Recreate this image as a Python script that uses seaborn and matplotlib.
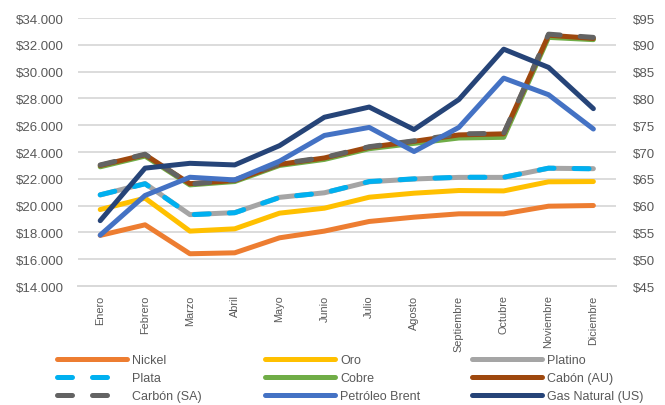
import numpy as np
import pandas as pd
import matplotlib
matplotlib.use("Agg")
from matplotlib import pyplot as plt
import seaborn as sns

#%% # Data

meses = ['Enero', 'Febrero', 'Marzo', 'Abril', 'Mayo', 'Junio', 'Julio',
         'Agosto', 'Septiembre', 'Octubre', 'Noviembre', 'Diciembre']

# left axis ($)
nickel = [17780, 18570, 16410, 16480, 17600, 18100, 18820, 19140, 19390, 19390, 19960, 20010]
oro = [19710, 20560, 18100, 18270, 19440, 19810, 20630, 20930, 21130, 21100, 21780, 21800]
platino = [20800, 21650, 19330, 19480, 20620, 20960, 21780, 21990, 22110, 22110, 22790, 22760]
plata = [20810, 21630, 19320, 19470, 20610, 20960, 21800, 22000, 22120, 22120, 22800, 22750]
cobre = [22900, 23700, 21550, 21800, 23000, 23450, 24250, 24650, 25050, 25100, 32560, 32390]

# right axis ($)
cabon_au = [67.5, 69.5, 64.1, 64.7, 67.7, 68.9, 70.9, 72.0, 73.2, 73.4, 91.8, 91.2]
carbon_sa = [67.6, 69.6, 64.0, 64.8, 67.8, 69.0, 71.0, 72.1, 73.4, 73.5, 92.0, 91.4]
brent = [54.5, 61.9, 65.3, 64.8, 68.3, 73.1, 74.6, 70.1, 74.6, 83.8, 80.7, 74.3]
gas = [57.2, 67.0, 67.9, 67.6, 71.2, 76.5, 78.4, 74.2, 79.8, 89.2, 85.8, 78.1]

left_series = [('Nickel', nickel, '#ED7D31', False),
               ('Oro', oro, '#FFC000', False),
               ('Platino', platino, '#A5A5A5', False),
               ('Plata', plata, '#00B0F0', True),
               ('Cobre', cobre, '#70AD47', False)]
right_series = [('Cabón (AU)', cabon_au, '#9E480E', False),
                ('Carbón (SA)', carbon_sa, '#636363', True),
                ('Petróleo Brent', brent, '#4472C4', False),
                ('Gas Natural (US)', gas, '#264478', False)]

#%% # Plot

sns.set_style('white')
plt.rcParams['font.family'] = ['Liberation Sans', 'DejaVu Sans']

fig = plt.figure(figsize=(6.65, 4.06), dpi=100)
ax = fig.add_axes([0.117, 0.293, 0.809, 0.66])
ax2 = ax.twinx()

x = np.arange(len(meses))
lw = 3.6
handles = {}


def draw(axis, series):
    for name, vals, col, dashed in series:
        df = pd.DataFrame({'mes': x, 'valor': vals})
        sns.lineplot(data=df, x='mes', y='valor', ax=axis, color=col, lw=lw,
                     sort=False, legend=False)
        line = axis.get_lines()[-1]
        line.set_solid_capstyle('round')
        line.set_solid_joinstyle('round')
        if dashed:
            line.set_dashes((3.0, 4.0))
            line.set_dash_capstyle('round')
        handles[name] = line


draw(ax, left_series)
draw(ax2, right_series)

ax.set_xlim(-0.5, 11.5)
ax.set_ylim(14000, 34000)
ax.set_yticks(np.arange(14000, 34001, 2000))
ax.set_yticklabels(['${:,.0f}'.format(v).replace(',', '.') for v in np.arange(14000, 34001, 2000)])
ax2.set_ylim(45, 95)
ax2.set_yticks(np.arange(45, 96, 5))
ax2.set_yticklabels(['${}'.format(v) for v in np.arange(45, 96, 5)])

ax.set_xticks(x)
ax.set_xticklabels(meses, rotation=90, va='top', ha='center')
ax.set_xticks([11.5], minor=True)
ax.set_xlabel('')
ax.set_ylabel('')
ax2.set_ylabel('')

ax.grid(axis='y', color='#D9D9D9', lw=1.3)
for a in (ax, ax2):
    for s in ['top', 'left', 'right']:
        a.spines[s].set_visible(False)
    a.spines['bottom'].set_color('#D9D9D9')
    a.spines['bottom'].set_linewidth(1.3)
ax.tick_params(axis='x', which='both', colors='#595959', labelsize=7.8, length=4,
               width=1, color='#D9D9D9', pad=2)
ax.tick_params(axis='y', colors='#595959', labelsize=9.5, length=0, pad=10)
ax2.tick_params(axis='y', colors='#595959', labelsize=9.5, length=0, pad=12)

# legend: three columns placed where the reference has them
columns = [['Nickel', 'Plata', 'Carbón (SA)'],
           ['Oro', 'Cobre', 'Petróleo Brent'],
           ['Platino', 'Cabón (AU)', 'Gas Natural (US)']]
col_x = [57, 265, 472]
for cx, names in zip(col_x, columns):
    leg = fig.legend([handles[k] for k in names], names, loc='upper left',
                     bbox_to_anchor=(cx / 665, 1 - 355 / 406), frameon=False,
                     fontsize=9, handlelength=5.6, handletextpad=0.4,
                     labelspacing=0.5, borderpad=0, borderaxespad=0)
    for t in leg.get_texts():
        t.set_color('#595959')

plt.savefig('out.png', dpi=100)
